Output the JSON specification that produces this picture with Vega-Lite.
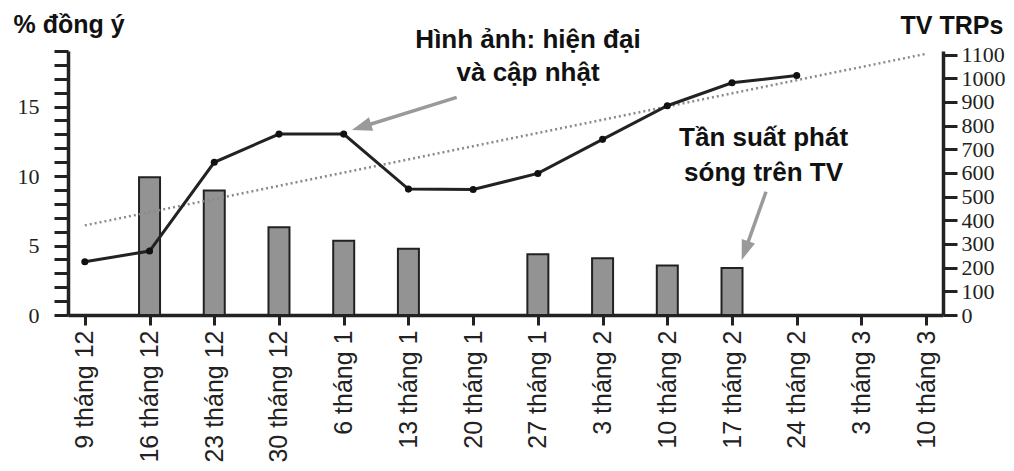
{
  "$schema": "https://vega.github.io/schema/vega-lite/v6.json",
  "width": 875,
  "height": 264,
  "autosize": {"type": "none"},
  "padding": {"left": 68, "top": 51, "right": 71, "bottom": 156},
  "background": "white",
  "config": {
    "view": {"stroke": null},
    "axis": {"grid": false, "domainColor": "#222", "tickColor": "#222", "domainWidth": 3.5, "tickWidth": 3, "labelColor": "#222", "titleColor": "#111", "labelOverlap": false}
  },
  "datasets": {
    "weekly": [
      {"date": "9 tháng 12", "pct": 3.83, "trp": null, "trend": 6.45},
      {"date": "16 tháng 12", "pct": 4.6, "trp": 582, "trend": null},
      {"date": "23 tháng 12", "pct": 10.99, "trp": 526, "trend": null},
      {"date": "30 tháng 12", "pct": 13.02, "trp": 371, "trend": null},
      {"date": "6 tháng 1", "pct": 13.02, "trp": 314, "trend": null},
      {"date": "13 tháng 1", "pct": 9.06, "trp": 280, "trend": null},
      {"date": "20 tháng 1", "pct": 9.03, "trp": null, "trend": null},
      {"date": "27 tháng 1", "pct": 10.19, "trp": 257, "trend": null},
      {"date": "3 tháng 2", "pct": 12.64, "trp": 240, "trend": null},
      {"date": "10 tháng 2", "pct": 15.06, "trp": 209, "trend": null},
      {"date": "17 tháng 2", "pct": 16.71, "trp": 198, "trend": null},
      {"date": "24 tháng 2", "pct": 17.24, "trp": null, "trend": null},
      {"date": "3 tháng 3", "pct": null, "trp": null, "trend": null},
      {"date": "10 tháng 3", "pct": null, "trp": null, "trend": 18.8}
    ],
    "arrows": [
      {"note": "image", "x": 5.746, "y": 15.66, "x2": 4.275, "y2": 13.53},
      {"note": "tv", "x": 10.525, "y": 8.87, "x2": 10.201, "y2": 4.63}
    ],
    "texts": [
      {"x": 6.848, "y": 19.22, "text": "Hình ảnh: hiện đại"},
      {"x": 6.848, "y": 16.85, "text": "và cập nhật"},
      {"x": 10.487, "y": 12.18, "text": "Tần suất phát"},
      {"x": 10.487, "y": 9.64, "text": "sóng trên TV"}
    ]
  },
  "layer": [
    {
      "data": {"name": "weekly"},
      "encoding": {
        "x": {
          "field": "date", "type": "ordinal", "sort": null,
          "scale": {"type": "point", "padding": 0.26, "domain": ["9 tháng 12", "16 tháng 12", "23 tháng 12", "30 tháng 12", "6 tháng 1", "13 tháng 1", "20 tháng 1", "27 tháng 1", "3 tháng 2", "10 tháng 2", "17 tháng 2", "24 tháng 2", "3 tháng 3", "10 tháng 3"]},
          "axis": {"title": null, "labelAngle": -90, "labelFont": "Liberation Sans", "labelFontSize": 25, "tickSize": 10, "labelPadding": 5, "labelLimit": 300}
        }
      },
      "layer": [
        {
          "mark": {"type": "bar", "width": 21, "fill": "#939393", "stroke": "#222", "strokeWidth": 2},
          "encoding": {
            "y": {
              "field": "trp", "type": "quantitative",
              "scale": {"domain": [0, 1115], "nice": false},
              "axis": {"orient": "right", "title": "TV TRPs", "format": "d", "titleAngle": 0, "titleAlign": "left", "titleBaseline": "alphabetic", "titleX": -43, "titleY": -18, "titleFont": "Liberation Sans", "titleFontSize": 25, "titleFontWeight": "bold", "values": [0, 100, 200, 300, 400, 500, 600, 700, 800, 900, 1000, 1100], "labelFont": "Liberation Serif", "labelFontSize": 22, "tickSize": 14, "labelPadding": 4}
            }
          }
        },
        {
          "layer": [
            {
              "transform": [{"filter": "datum.trend != null"}],
              "mark": {"type": "line", "stroke": "#8a8a8a", "strokeWidth": 2.5, "strokeDash": [2, 3]},
              "encoding": {
                "y": {
                  "field": "trend", "type": "quantitative", "title": "% đồng ý",
                  "scale": {"domain": [0, 19], "nice": false},
                  "axis": {"orient": "left", "titleAngle": 0, "titleAlign": "left", "titleBaseline": "alphabetic", "titleX": -55, "titleY": -19, "titleFont": "Liberation Sans", "titleFontSize": 25, "titleFontWeight": "bold", "values": [0, 1, 2, 3, 4, 5, 6, 7, 8, 9, 10, 11, 12, 13, 14, 15, 16, 17, 18, 19], "labelExpr": "datum.value % 5 === 0 ? datum.label : ''", "labelFont": "Liberation Serif", "labelFontSize": 22, "tickSize": 14, "labelPadding": 15}
                }
              }
            },
            {
              "transform": [{"filter": "datum.pct != null"}],
              "mark": {"type": "line", "stroke": "#222", "strokeWidth": 3},
              "encoding": {
                "y": {
                  "field": "pct", "type": "quantitative", "title": "% đồng ý",
                  "scale": {"domain": [0, 19], "nice": false},
                  "axis": {"orient": "left", "titleAngle": 0, "titleAlign": "left", "titleBaseline": "alphabetic", "titleX": -55, "titleY": -19, "titleFont": "Liberation Sans", "titleFontSize": 25, "titleFontWeight": "bold", "values": [0, 1, 2, 3, 4, 5, 6, 7, 8, 9, 10, 11, 12, 13, 14, 15, 16, 17, 18, 19], "labelExpr": "datum.value % 5 === 0 ? datum.label : ''", "labelFont": "Liberation Serif", "labelFontSize": 22, "tickSize": 14, "labelPadding": 15}
                }
              }
            },
            {
              "transform": [{"filter": "datum.pct != null"}],
              "mark": {"type": "point", "filled": true, "shape": "circle", "color": "#111", "size": 50, "opacity": 1},
              "encoding": {
                "y": {
                  "field": "pct", "type": "quantitative", "title": "% đồng ý",
                  "scale": {"domain": [0, 19], "nice": false},
                  "axis": {"orient": "left", "titleAngle": 0, "titleAlign": "left", "titleBaseline": "alphabetic", "titleX": -55, "titleY": -19, "titleFont": "Liberation Sans", "titleFontSize": 25, "titleFontWeight": "bold", "values": [0, 1, 2, 3, 4, 5, 6, 7, 8, 9, 10, 11, 12, 13, 14, 15, 16, 17, 18, 19], "labelExpr": "datum.value % 5 === 0 ? datum.label : ''", "labelFont": "Liberation Serif", "labelFontSize": 22, "tickSize": 14, "labelPadding": 15}
                }
              }
            }
          ]
        }
      ],
      "resolve": {"scale": {"y": "independent"}}
    },
    {
      "layer": [
        {
          "data": {"name": "arrows"},
          "mark": {"type": "rule", "stroke": "#9a9a9a", "strokeWidth": 3.5},
          "encoding": {
            "x": {"field": "x", "type": "quantitative", "scale": {"domain": [-0.26, 13.26], "nice": false, "zero": false}, "axis": null},
            "y": {"field": "y", "type": "quantitative", "scale": {"domain": [0, 19], "nice": false}, "axis": null},
            "x2": {"field": "x2"},
            "y2": {"field": "y2"}
          }
        },
        {
          "data": {"name": "arrows"},
          "transform": [{"filter": "datum.note === 'image'"}],
          "mark": {"type": "point", "shape": "M0,-1L-0.7,1L0.7,1Z", "filled": true, "color": "#9a9a9a", "opacity": 1, "size": 400, "angle": 252.7},
          "encoding": {
            "x": {"field": "x2", "type": "quantitative", "scale": {"domain": [-0.26, 13.26], "nice": false, "zero": false}, "axis": null},
            "y": {"field": "y2", "type": "quantitative", "scale": {"domain": [0, 19], "nice": false}, "axis": null}
          }
        },
        {
          "data": {"name": "arrows"},
          "transform": [{"filter": "datum.note === 'tv'"}],
          "mark": {"type": "point", "shape": "M0,-1L-0.7,1L0.7,1Z", "filled": true, "color": "#9a9a9a", "opacity": 1, "size": 400, "angle": 199.6},
          "encoding": {
            "x": {"field": "x2", "type": "quantitative", "scale": {"domain": [-0.26, 13.26], "nice": false, "zero": false}, "axis": null},
            "y": {"field": "y2", "type": "quantitative", "scale": {"domain": [0, 19], "nice": false}, "axis": null}
          }
        },
        {
          "data": {"name": "texts"},
          "mark": {"type": "text", "font": "Liberation Sans", "fontSize": 26, "fontWeight": "bold", "color": "#111", "align": "center", "baseline": "alphabetic"},
          "encoding": {
            "x": {"field": "x", "type": "quantitative", "scale": {"domain": [-0.26, 13.26], "nice": false, "zero": false}, "axis": null},
            "y": {"field": "y", "type": "quantitative", "scale": {"domain": [0, 19], "nice": false}, "axis": null},
            "text": {"field": "text"}
          }
        }
      ]
    }
  ],
  "resolve": {"scale": {"x": "independent", "y": "independent"}}
}
